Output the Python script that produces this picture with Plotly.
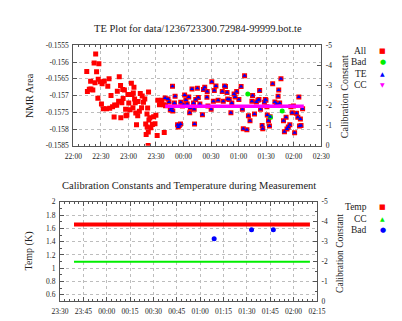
import pandas as pd
import plotly.graph_objects as go

# ---------------- data ----------------
BASE = "2009-03-10 22:00:00"

# "All" points before TE window (minutes after 22:00, NMR area)
red_min = [14.6,15.3,17.4,19.1,21.2,18.8,22.6,24.3,25.3,23.6,
           26.7,27.8,27.1,29.5,31.3,33.7,30.6,32.6,36.1,38.9,
           37.5,39.6,41.0,42.7,44.4,45.0,47.2,47.9,49.3,50.0,
           51.4,51.7,53.8,54.2,52.8,55.6,56.9,58.3,57.3,59.4,
           60.4,63.2,61.8,63.9,64.9,66.0,65.3,67.4,66.7,68.8,
           68.0,70.1,71.9,72.9,70.5,75.0,74.3,76.4,77.8,78.8,
           80.2,81.9,80.9,82.3,83.3,81.5,79.3,80.4,81.6,84.4,
           86.1,87.5,89.9,88.9,91.3,92.0,93.8,95.5,96.5,98.6,
           99.0,100.3]
red_val = [-0.15628,-0.15688,-0.15681,-0.15680,-0.15683,-0.15657,-0.15603,-0.15576,-0.15629,-0.15662,
           -0.15708,-0.15605,-0.15651,-0.15659,-0.15665,-0.15657,-0.15725,-0.15739,-0.15739,-0.15650,
           -0.15672,-0.15738,-0.15700,-0.15733,-0.15764,-0.15728,-0.15729,-0.15687,-0.15717,-0.15644,
           -0.15670,-0.15766,-0.15682,-0.15709,-0.15721,-0.15683,-0.15741,-0.15758,-0.15760,-0.15697,
           -0.15722,-0.15663,-0.15742,-0.15697,-0.15736,-0.15675,-0.15692,-0.15721,-0.15710,-0.15787,
           -0.15752,-0.15760,-0.15747,-0.15694,-0.15718,-0.15701,-0.15736,-0.15720,-0.15710,-0.15785,
           -0.15755,-0.15689,-0.15737,-0.15773,-0.15766,-0.15849,-0.15816,-0.15794,-0.15809,-0.15796,
           -0.15786,-0.15763,-0.15759,-0.15784,-0.15819,-0.15714,-0.15727,-0.15720,-0.15714,-0.15727,
           -0.15810,-0.15730]

# TE points (also part of "All")
te_min = [100.0,103.1,104.2,105.6,108.0,106.9,108.3,110.1,110.8,113.5,
          114.2,115.3,116.7,117.0,118.8,120.1,121.2,122.6,124.0,125.7,
          127.4,126.7,129.2,130.9,131.6,132.0,133.3,135.1,136.1,137.8,
          140.6,141.7,143.1,145.5,145.8,
          146.6,150.1,150.8,152.5,153.5,155.3,157.7,
          162.2,164.7,163.3,165.7,167.4,168.1,169.9,171.6,172.6,
          175.1,176.1,177.9,180.3,182.7,184.1,185.1,186.5,189.0,
          190.7,192.4,194.5,195.2,197.3,199.4,201.1,202.2,202.9,203.9,
          205.6,206.3,208.1,209.1,209.8,210.8,211.2,212.6,213.6,214.3,
          217.1,219.5,221.3,223.0,223.7,224.7,226.1,228.9,229.9,
          231.7,232.7,234.1,235.8,236.9,238.3,239.7,241.0,
          243.1,244.5,245.6,246.3,247.3,248.0,249.7]
te_val = [-0.15707,-0.15710,-0.15719,-0.15743,-0.15672,-0.15738,-0.15746,-0.15722,-0.15702,-0.15787,
          -0.15794,-0.15789,-0.15785,-0.15720,-0.15731,-0.15727,-0.15698,-0.15713,-0.15725,-0.15704,
          -0.15737,-0.15751,-0.15680,-0.15722,-0.15741,-0.15785,-0.15712,-0.15678,-0.15706,-0.15725,
          -0.15757,-0.15682,-0.15675,-0.15705,-0.15688,
          -0.15731,-0.15741,-0.15659,-0.15717,-0.15685,-0.15671,-0.15714,
          -0.15688,-0.15671,-0.15717,-0.15673,-0.15691,-0.15710,-0.15712,-0.15751,-0.15722,
          -0.15695,-0.15704,-0.15688,-0.15712,-0.15673,-0.15741,-0.15799,-0.15641,-0.15802,
          -0.15760,-0.15775,-0.15717,-0.15700,-0.15755,-0.15719,-0.15714,-0.15712,-0.15685,-0.15741,
          -0.15789,-0.15799,-0.15720,-0.15712,-0.15714,-0.15733,-0.15758,-0.15775,-0.15791,-0.15763,
          -0.15665,-0.15719,-0.15724,-0.15702,-0.15683,-0.15722,-0.15650,-0.15775,-0.15808,
          -0.15765,-0.15800,-0.15794,-0.15787,-0.15733,-0.15751,-0.15731,-0.15811,
          -0.15753,-0.15765,-0.15704,-0.15791,-0.15770,-0.15789,-0.15739]

# Bad points
bad_min = [190.0, 214.7, 227.5]
bad_nmr = [-0.15695, -0.15765, -0.15746]
bad_cc_min = [189.0, 213.0, 227.0]
bad_cc = [-3.15, -3.6, -3.6]

# Calibration constant and temperature over the TE window
cc_min = [100.0, 251.0]
cc_val = [-1.97, -1.97]
temp_min = [99.0, 250.5]
temp_val = [1.66, 1.66]
cc2_min = [99.0, 250.5]
cc2_val = [-1.99, -1.99]

# tick labels
nmr_ticks = [-0.1555, -0.156, -0.1565, -0.157, -0.1575, -0.158, -0.1585]
nmr_labels = ["-0.1555", "-0.156", "-0.1565", "-0.157", "-0.1575", "-0.158", "-0.1585"]
cc_ticks = [0, -1, -2, -3, -4, -5]
cc_labels = ["0", "-1", "-2", "-3", "-4", "-5"]
temp_ticks = [0.6, 0.8, 1.0, 1.2, 1.4, 1.6, 1.8, 2.0]
temp_labels = ["0.6", "0.8", "1", "1.2", "1.4", "1.6", "1.8", "2"]

# ---------------- helpers ----------------
base = pd.Timestamp(BASE)
def tt(mins):
    return [base + pd.Timedelta(minutes=m) for m in mins]

FONT = "Liberation Serif"
W, H = 402, 321
def px(x):
    return x / W
def py(y):
    return 1 - y / H

RED = "#ff0000"
GREEN = "#00ee00"
BLUE = "#0000ff"
MAG = "#ff00ff"
AXC = "#555555"
GRIDC = "#bdbdbd"

fig = go.Figure()

# top plot
fig.add_trace(go.Scatter(x=tt(red_min + te_min), y=red_val + te_val, mode="markers",
                         marker=dict(symbol="square", size=5, color=RED, line=dict(width=0)),
                         xaxis="x", yaxis="y", showlegend=False))
fig.add_trace(go.Scatter(x=tt(bad_min), y=bad_nmr, mode="markers",
                         marker=dict(symbol="circle", size=5, color=GREEN, line=dict(width=0)),
                         xaxis="x", yaxis="y", showlegend=False))
fig.add_trace(go.Scatter(x=tt(te_min), y=te_val, mode="markers",
                         marker=dict(symbol="triangle-up", size=4, color=BLUE, line=dict(width=0)),
                         xaxis="x", yaxis="y", showlegend=False))
fig.add_trace(go.Scatter(x=tt(cc_min), y=cc_val, mode="lines",
                         line=dict(color=MAG, width=3.5),
                         xaxis="x", yaxis="y2", showlegend=False))

# bottom plot
fig.add_trace(go.Scatter(x=tt(temp_min), y=temp_val, mode="lines",
                         line=dict(color=RED, width=4),
                         xaxis="x2", yaxis="y3", showlegend=False))
fig.add_trace(go.Scatter(x=tt(cc2_min), y=cc2_val, mode="lines",
                         line=dict(color=GREEN, width=2),
                         xaxis="x2", yaxis="y4", showlegend=False))
fig.add_trace(go.Scatter(x=tt(bad_cc_min), y=bad_cc, mode="markers",
                         marker=dict(symbol="circle", size=5, color=BLUE, line=dict(width=0)),
                         xaxis="x2", yaxis="y4", showlegend=False))

tickfont = dict(family=FONT, size=7.5, color="#222")

def xax(domain, anchor, r0, r1, dtick_min, minor_min, tick0):
    return dict(domain=domain, anchor=anchor, type="date",
                range=[r0, r1], tickformat="%H:%M", dtick=dtick_min * 60000,
                tick0=tick0, ticks="inside", ticklen=4, tickcolor=AXC,
                showline=True, linecolor=AXC, linewidth=1, mirror="ticks",
                showgrid=True, gridcolor=GRIDC, griddash="dot", gridwidth=1,
                zeroline=False, tickfont=tickfont, ticklabelstandoff=3,
                minor=dict(ticks="inside", ticklen=2, dtick=minor_min * 60000,
                           tick0=tick0, tickcolor=AXC, showgrid=False))

top_dom_y = [py(137.7), py(34.3)]
bot_dom_y = [py(297.7), py(195.3)]

fig.update_layout(
    width=W, height=H, margin=dict(l=0, r=0, t=0, b=0),
    paper_bgcolor="white", plot_bgcolor="white",
    font=dict(family=FONT, size=8, color="#222"),
    showlegend=False,
    xaxis=xax([px(59), px(318.5)], "y", "2009-03-10 22:00", "2009-03-11 02:30", 30, 6,
              "2009-03-10 22:00"),
    yaxis=dict(domain=top_dom_y, anchor="x", range=[-0.1585, -0.1555],
               tickvals=nmr_ticks, ticktext=nmr_labels, ticks="inside", ticklen=4,
               tickcolor=AXC, showline=True, linecolor=AXC, linewidth=1,
               showgrid=True, gridcolor=GRIDC, griddash="dot", zeroline=False,
               tickfont=tickfont, ticklabelstandoff=2),
    yaxis2=dict(overlaying="y", anchor="x", side="right", range=[0, -5],
                tickvals=cc_ticks, ticktext=cc_labels, ticks="inside", ticklen=4,
                tickcolor=AXC, showline=True, linecolor=AXC, linewidth=1,
                showgrid=False, zeroline=False, tickfont=tickfont, ticklabelstandoff=2),
    xaxis2=xax([px(45), px(314)], "y3", "2009-03-10 23:30", "2009-03-11 02:15", 15, 3,
               "2009-03-10 23:30"),
    yaxis3=dict(domain=bot_dom_y, anchor="x2", range=[0.5, 2.0],
                tickvals=temp_ticks, ticktext=temp_labels, ticks="inside", ticklen=4,
                tickcolor=AXC, showline=True, linecolor=AXC, linewidth=1,
                showgrid=True, gridcolor=GRIDC, griddash="dot", zeroline=False,
                tickfont=tickfont, ticklabelstandoff=2,
                minor=dict(ticks="inside", ticklen=2, dtick=0.1, tick0=0.5,
                           tickcolor=AXC, showgrid=False)),
    yaxis4=dict(overlaying="y3", anchor="x2", side="right", range=[0, -5],
                tickvals=cc_ticks, ticktext=cc_labels, ticks="inside", ticklen=4,
                tickcolor=AXC, showline=True, linecolor=AXC, linewidth=1,
                showgrid=False, zeroline=False, tickfont=tickfont, ticklabelstandoff=2,
                minor=dict(ticks="inside", ticklen=2, dtick=0.5, tick0=0,
                           tickcolor=AXC, showgrid=False)),
)

ann = []
def text(x, y, s, size=8, angle=0, xanchor="center"):
    ann.append(dict(x=px(x), y=py(y), xref="paper", yref="paper", text=s,
                    showarrow=False, textangle=angle, xanchor=xanchor, yanchor="middle",
                    font=dict(family=FONT, size=size, color="#222")))

def glyph(x, y, s, color, size):
    ann.append(dict(x=px(x), y=py(y), xref="paper", yref="paper", text=s,
                    showarrow=False, xanchor="center", yanchor="middle",
                    font=dict(family="DejaVu Sans", size=size, color=color)))

# titles
text(190, 17, "TE Plot for data/1236723300.72984-99999.bot.te", size=10.5)
text(180, 178, "Calibration Constants and Temperature during Measurement", size=10.5)
# axis titles
text(13, 86, "NMR Area", size=10, angle=-90)
text(343, 87, "Calibration Constant", size=10, angle=-90)
text(13, 246, "Temp (K)", size=10, angle=-90)
text(338, 248, "Calibration Constant", size=9.5, angle=-90)

# top legend
leg_top = [("All", "■", RED, 7), ("Bad", "●", GREEN, 7), ("TE", "▲", BLUE, 6), ("CC", "▼", MAG, 6)]
for i, (lab, g, c, s) in enumerate(leg_top):
    yy = 40 + i * 11.7
    text(368, yy, lab, size=9.5, xanchor="right")
    glyph(383, yy, g, c, s)

leg_bot = [("Temp", "■", RED, 7), ("CC", "▲", GREEN, 6), ("Bad", "●", BLUE, 7)]
for i, (lab, g, c, s) in enumerate(leg_bot):
    yy = 201 + i * 11.5
    text(368, yy, lab, size=9.5, xanchor="right")
    glyph(383, yy, g, c, s)

fig.update_layout(annotations=ann)

fig.write_html("out.html")
